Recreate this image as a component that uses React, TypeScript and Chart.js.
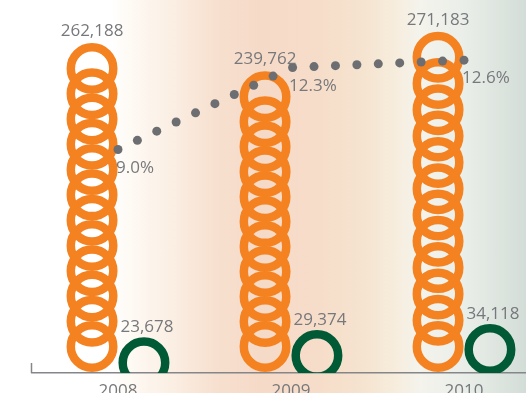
import React, { useEffect, useRef } from "react";
import { Chart, registerables } from "chart.js";

Chart.register(...registerables);

const years = ["2008", "2009", "2010"];
const totalValues = [262188, 239762, 271183];
const smallValues = [23678, 29374, 34118];
const ratioValues = [9.0, 12.3, 12.6];
const ratioLabels = ["9.0%", "12.3%", "12.6%"];

const ORANGE = "#f58220";
const GREEN = "#005a36";
const DOT = "#6d6e72";
const TEXT = "#77787b";
const FONT = "'Open Sans', 'DejaVu Sans', sans-serif";
const FONT_SIZE = 17;

const fmt = (n: number) => n.toLocaleString("en-US");

const ringPlugin = {
  id: "rings",
  beforeDatasetDraw(chart: any, args: any) {
    const meta = args.meta;
    const ctx = chart.ctx;
    const area = chart.chartArea;
    if (meta.type === "line") {
      // dotted line: evenly spaced dots along the line, landing on both end points
      const pts = meta.data.map((el: any) => ({ x: el.x, y: el.y }));
      const segs: number[] = [];
      let L = 0;
      for (let i = 1; i < pts.length; i++) {
        const d = Math.hypot(pts[i].x - pts[i - 1].x, pts[i].y - pts[i - 1].y);
        segs.push(d);
        L += d;
      }
      const n = Math.max(1, Math.round(L / 21.5));
      ctx.save();
      ctx.fillStyle = DOT;
      for (let k = 0; k <= n; k++) {
        let d = (k * L) / n;
        let s = 0;
        while (s < segs.length - 1 && d > segs[s]) {
          d -= segs[s];
          s++;
        }
        const t = segs[s] ? Math.min(1, d / segs[s]) : 0;
        const x = pts[s].x + (pts[s + 1].x - pts[s].x) * t;
        const y = pts[s].y + (pts[s + 1].y - pts[s].y) * t;
        ctx.beginPath();
        ctx.arc(x, y, 4.5, 0, Math.PI * 2);
        ctx.fill();
      }
      ctx.restore();
      return false;
    }
    if (meta.type !== "bar") return;
    const isTotal = args.index === 0;
    ctx.save();
    ctx.beginPath();
    ctx.rect(area.left, area.top - 40, area.right - area.left, area.bottom - area.top + 40);
    ctx.clip();
    ctx.strokeStyle = isTotal ? ORANGE : GREEN;
    const lw = 8.5;
    ctx.lineWidth = lw;
    meta.data.forEach((el: any) => {
      const R = Math.min(25.5, el.width / 2);
      const r = R - lw / 2;
      if (isTotal) {
        const topC = el.y + R;
        const botC = el.base - R - 1;
        const n = Math.max(1, Math.round((botC - topC) / 25.3) + 1);
        const step = n > 1 ? (botC - topC) / (n - 1) : 0;
        for (let i = 0; i < n; i++) {
          ctx.beginPath();
          ctx.arc(el.x, botC - i * step, r, 0, Math.PI * 2);
          ctx.stroke();
        }
      } else {
        ctx.beginPath();
        ctx.arc(el.x, el.y - 6 + R, r, 0, Math.PI * 2);
        ctx.stroke();
      }
    });
    ctx.restore();
    return false;
  },
  afterDraw(chart: any) {
    const ctx = chart.ctx;
    const area = chart.chartArea;
    ctx.save();
    ctx.strokeStyle = "#85868a";
    ctx.lineWidth = 1.5;
    ctx.beginPath();
    ctx.moveTo(area.left, area.bottom);
    ctx.lineTo(area.left, area.bottom - 10);
    ctx.stroke();

    ctx.fillStyle = TEXT;
    ctx.font = `${FONT_SIZE}px ${FONT}`;
    const m0 = chart.getDatasetMeta(0);
    const m1 = chart.getDatasetMeta(1);
    const m2 = chart.getDatasetMeta(2);
    ctx.textAlign = "center";
    ctx.textBaseline = "alphabetic";
    m0.data.forEach((el: any, i: number) => {
      ctx.fillText(fmt(totalValues[i]), el.x, el.y - 7);
    });
    m1.data.forEach((el: any, i: number) => {
      ctx.fillText(fmt(smallValues[i]), el.x + 3, el.y - 11);
    });
    ctx.textAlign = "left";
    ctx.textBaseline = "top";
    m2.data.forEach((el: any, i: number) => {
      ctx.fillText(ratioLabels[i], el.x - 2, el.y + 10);
    });
    ctx.restore();
  },
};

export default function App() {
  const ref = useRef<HTMLCanvasElement>(null);
  useEffect(() => {
    const chart = new Chart(ref.current as HTMLCanvasElement, {
      type: "bar",
      data: {
        labels: years,
        datasets: [
          {
            label: "Total",
            data: totalValues,
            backgroundColor: "transparent",
            yAxisID: "y",
            order: 1,
          },
          {
            label: "Part",
            data: smallValues,
            backgroundColor: "transparent",
            yAxisID: "y",
            order: 2,
          },
          {
            type: "line",
            label: "Ratio",
            data: ratioValues,
            yAxisID: "y2",
            borderColor: DOT,
            borderWidth: 9,
            pointRadius: 0,
            fill: false,
            tension: 0,
            order: 0,
          } as any,
        ],
      },
      options: {
        responsive: false,
        animation: false,
        events: [],
        layout: { padding: { left: 31.5, right: 1.5, top: 8, bottom: 10.6 } },
        plugins: { legend: { display: false }, tooltip: { enabled: false } },
        datasets: { bar: { barPercentage: 1, categoryPercentage: 0.6 } },
        scales: {
          x: {
            grid: { display: false, drawTicks: false },
            border: { display: true, color: "#85868a", width: 1.5 },
            ticks: {
              color: TEXT,
              font: { family: FONT, size: FONT_SIZE },
              padding: 8,
            },
          },
          y: { display: false, min: 0, max: 290000 },
          y2: { display: false, min: 0, max: 14.7 },
        },
      },
      plugins: [ringPlugin],
    });
    return () => chart.destroy();
  }, []);

  const bg =
    "linear-gradient(to right, #ffffff 0%, #ffffff 21.3%, #fefbf6 23.8%, #fbefe4 32.3%, #f7e0cf 40.9%, #f6dac8 49.4%, #f6ddc9 60.8%, #f5e4d0 69.4%, #f7eddd 75.1%, #f4f3ec 79.8%, #eaeee9 88.4%, #d3ddd7 100%)";

  return (
    <div
      style={{
        position: "fixed",
        left: 0,
        top: 0,
        width: 526,
        height: 393,
        overflow: "hidden",
        background: bg,
      }}
    >
      <canvas
        ref={ref}
        width={552}
        height={420}
        style={{ position: "absolute", left: 0, top: 0, width: 552, height: 420 }}
      />
    </div>
  );
}
